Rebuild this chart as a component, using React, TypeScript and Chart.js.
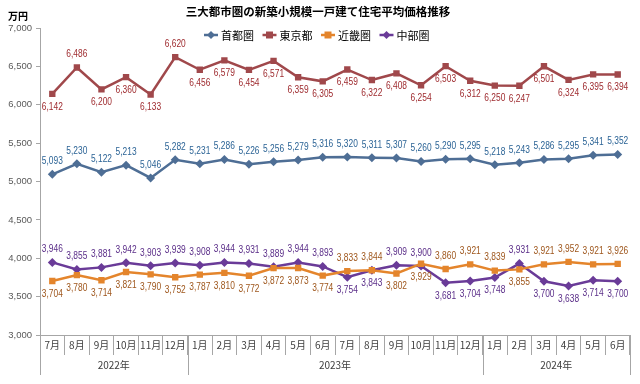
import React, { useEffect, useRef } from "react";
import { Chart, registerables } from "chart.js";

Chart.register(...registerables);

const months = ["7月","8月","9月","10月","11月","12月","1月","2月","3月","4月","5月","6月","7月","8月","9月","10月","11月","12月","1月","2月","3月","4月","5月","6月"];
const years = ["2022年", "2023年", "2024年"];
const yearSpans = [6, 12, 6];

const shuto = [5093,5230,5122,5213,5046,5282,5231,5286,5226,5256,5279,5316,5320,5311,5307,5260,5290,5295,5218,5243,5286,5295,5341,5352];
const tokyo = [6142,6486,6200,6360,6133,6620,6456,6579,6454,6571,6359,6305,6459,6322,6408,6254,6503,6312,6250,6247,6501,6324,6395,6394];
const kinki = [3704,3780,3714,3821,3790,3752,3787,3810,3772,3872,3873,3774,3833,3844,3802,3929,3860,3921,3839,3855,3921,3952,3921,3926];
const chubu = [3946,3855,3881,3942,3903,3939,3908,3944,3931,3889,3944,3893,3754,3843,3909,3900,3681,3704,3748,3931,3700,3638,3714,3700];

// label placement styles (indices whose label sits above the point)
const tokyoAbove = [1, 5];
const kinkiAbove = [12, 13, 16, 17, 18, 20, 21, 22, 23];

const fmt = (v: number) => v.toLocaleString("en-US");
const JP = '"Noto Sans CJK JP", sans-serif';
const NUM = '"Liberation Sans", Arial, sans-serif';

const series = [
  { label: "首都圏", data: shuto, color: "#4E6E95", labelColor: "#2C6496", style: "rectRot", r: 4.5, above: (i: number) => true },
  { label: "東京都", data: tokyo, color: "#A0484B", labelColor: "#9E2A2E", style: "rect", r: 4.5, above: (i: number) => tokyoAbove.includes(i) },
  { label: "近畿圏", data: kinki, color: "#E4852C", labelColor: "#9E561C", style: "rect", r: 4.5, above: (i: number) => kinkiAbove.includes(i) },
  { label: "中部圏", data: chubu, color: "#6A3B98", labelColor: "#5A2D88", style: "rectRot", r: 4.5, above: (i: number) => !kinkiAbove.includes(i) },
];

const SQ = 0.8; // horizontal squeeze for numeric labels

const decor = {
  id: "decor",
  afterDraw(chart: any) {
    const ctx = chart.ctx;
    const x = chart.scales.x;
    ctx.save();
    // data labels
    ctx.font = `10.5px ${NUM}`;
    ctx.textAlign = "center";
    ctx.textBaseline = "middle";
    series.forEach((s, di) => {
      const meta = chart.getDatasetMeta(di);
      meta.data.forEach((pt: any, i: number) => {
        ctx.fillStyle = s.labelColor;
        const dy = s.above(i) ? -13 : 13;
        ctx.save();
        ctx.translate(pt.x, pt.y + dy);
        ctx.scale(SQ, 1);
        ctx.fillText(fmt(s.data[i]), 0, 0);
        ctx.restore();
      });
    });
    // title
    ctx.fillStyle = "#000";
    ctx.font = `bold 11.5px ${JP}`;
    ctx.fillText("三大都市圏の新築小規模一戸建て住宅平均価格推移", 318, 12);
    // unit
    ctx.font = `bold 10px ${JP}`;
    ctx.textAlign = "left";
    ctx.fillText("万円", 8, 16);
    // legend
    ctx.font = `11px ${JP}`;
    let lx = 204;
    const ly = 35;
    series.forEach((s) => {
      ctx.strokeStyle = s.color;
      ctx.lineWidth = 2.5;
      ctx.beginPath();
      ctx.moveTo(lx, ly);
      ctx.lineTo(lx + 14, ly);
      ctx.stroke();
      ctx.fillStyle = s.color;
      const cx = lx + 7;
      ctx.beginPath();
      if (s.style === "rect") {
        ctx.rect(cx - 3.5, ly - 3.5, 7, 7);
      } else {
        ctx.moveTo(cx, ly - 4);
        ctx.lineTo(cx + 4, ly);
        ctx.lineTo(cx, ly + 4);
        ctx.lineTo(cx - 4, ly);
        ctx.closePath();
      }
      ctx.fill();
      ctx.fillStyle = "#000";
      ctx.fillText(s.label, lx + 17, ly + 0.5);
      lx += 58.5;
    });
    // year row
    const step = x.getPixelForValue(1) - x.getPixelForValue(0);
    const edge = (i: number) => x.getPixelForValue(i) - step / 2;
    ctx.strokeStyle = "#A6A6A6";
    ctx.lineWidth = 1;
    let idx = 0;
    const bottom = chart.chartArea.bottom;
    ctx.font = `10px ${JP}`;
    ctx.textAlign = "center";
    ctx.fillStyle = "#404040";
    const bounds = [0];
    yearSpans.forEach((n) => { idx += n; bounds.push(idx); });
    bounds.forEach((b) => {
      const px = Math.round(edge(b)) + 0.5;
      ctx.beginPath();
      ctx.moveTo(px, bottom);
      ctx.lineTo(px, bottom + 40);
      ctx.stroke();
    });
    years.forEach((yl, k) => {
      const a = edge(bounds[k]);
      const b2 = edge(bounds[k + 1]);
      ctx.fillText(yl, (a + b2) / 2, bottom + 30);
    });
    ctx.restore();
  },
};

export default function App() {
  const ref = useRef<HTMLCanvasElement>(null);
  useEffect(() => {
    const chart = new Chart(ref.current!, {
      type: "line",
      data: {
        labels: months,
        datasets: series.map((s) => ({
          label: s.label,
          data: s.data,
          borderColor: s.color,
          backgroundColor: s.color,
          borderWidth: 2.5,
          pointStyle: s.style as any,
          pointRadius: s.r,
          pointBorderWidth: 0,
          tension: 0,
        })),
      },
      options: {
        animation: false,
        responsive: false,
        maintainAspectRatio: false,
        layout: { padding: { top: 28, right: 10, left: 0, bottom: 0 } },
        plugins: { legend: { display: false }, title: { display: false }, tooltip: { enabled: false } },
        scales: {
          x: {
            offset: true,
            grid: { display: true, drawOnChartArea: false, offset: true, tickLength: 20, color: "#A6A6A6" },
            border: { display: true, color: "#A6A6A6" },
            ticks: { padding: -16, font: { size: 10, family: JP }, color: "#404040", maxRotation: 0, autoSkip: false },
            afterFit: (s: any) => { s.height = 49; },
          },
          y: {
            min: 3000,
            max: 7000,
            ticks: { stepSize: 500, font: { size: 9.5, family: NUM }, color: "#595959", padding: 4, callback: (v: any) => fmt(Number(v)) },
            grid: { display: true, drawOnChartArea: false, tickLength: 4, color: "#A6A6A6" },
            border: { display: true, color: "#A6A6A6" },
            afterFit: (s: any) => { s.width = 40; },
          },
        },
      },
      plugins: [decor],
    });
    return () => chart.destroy();
  }, []);
  return (
    <div style={{ position: "fixed", left: 0, top: 0, width: 640, height: 384, background: "#fff" }}>
      <canvas ref={ref} width={640} height={384} style={{ width: 640, height: 384 }} />
    </div>
  );
}
